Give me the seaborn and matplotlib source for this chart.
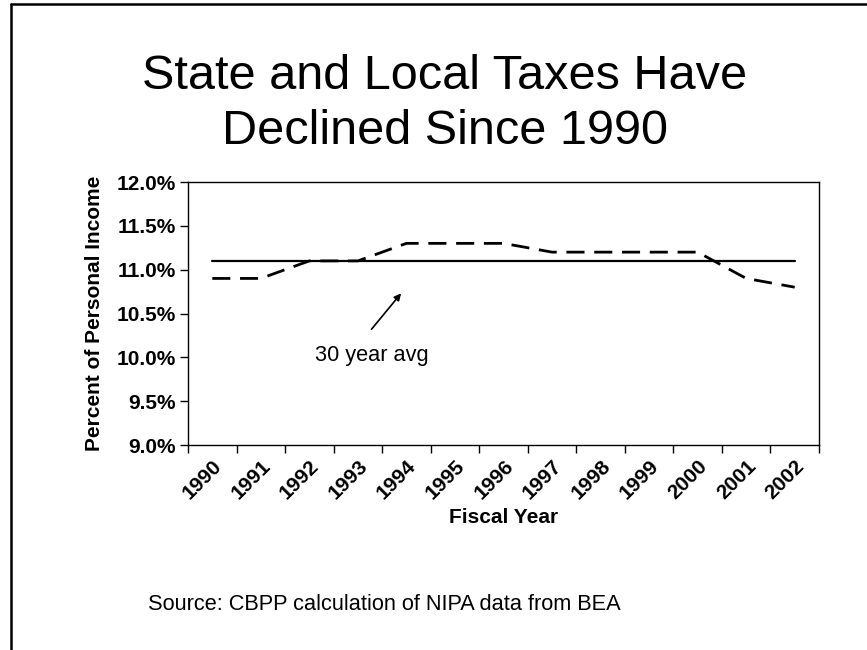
import matplotlib
matplotlib.use("Agg")
import matplotlib.pyplot as plt
import matplotlib.transforms as mtransforms
import seaborn as sns
import pandas as pd
import numpy as np
from matplotlib.lines import Line2D
from matplotlib.ticker import FixedLocator, FuncFormatter

years = ["1990", "1991", "1992", "1993", "1994", "1995", "1996",
         "1997", "1998", "1999", "2000", "2001", "2002"]
tax_share = [10.9, 10.9, 11.1, 11.1, 11.3, 11.3, 11.3,
             11.2, 11.2, 11.2, 11.2, 10.9, 10.8]
avg_30yr = [11.1] * len(years)
y_ticks = [9.0, 9.5, 10.0, 10.5, 11.0, 11.5, 12.0]

sns.set_style("white")
plt.rcParams['font.family'] = ['Liberation Sans', 'DejaVu Sans']
for k in ["text.color", "axes.labelcolor", "xtick.color", "ytick.color"]:
    plt.rcParams[k] = "black"

df = pd.DataFrame({"idx": np.arange(len(years)), "year": years,
                   "share": tax_share, "avg": avg_30yr})

fig = plt.figure(figsize=(8.67, 6.5), dpi=100)
ax = fig.add_axes([188/867, 1 - 445/650, (819-188)/867, (445-182)/650])

sns.lineplot(data=df, x="idx", y="avg", ax=ax, color="black", linewidth=1.6)
sns.lineplot(data=df, x="idx", y="share", ax=ax, color="black", linewidth=2.0)
ax.lines[1].set_dashes((6.5, 3.5))

ax.set_xlim(-0.5, len(years) - 0.5)
ax.set_ylim(9.0, 12.0)
ax.set_yticks(y_ticks)
ax.yaxis.set_major_formatter(FuncFormatter(lambda v, p: f"{v:.1f}%"))
ax.set_xticks(df["idx"])
ax.set_xticklabels(years, rotation=45, ha="right", va="top", rotation_mode="anchor",
                   fontweight="bold", fontsize=15)
offset = mtransforms.ScaledTranslation(10/100, 0, fig.dpi_scale_trans)
for lab in ax.get_xticklabels():
    lab.set_transform(lab.get_transform() + offset)
ax.xaxis.set_minor_locator(FixedLocator(np.arange(-0.5, len(years), 1.0)))
ax.tick_params(axis="x", which="major", length=0, pad=8)
ax.tick_params(axis="x", which="minor", length=6, width=1, direction="out", bottom=True)
ax.tick_params(axis="y", length=6, width=1, direction="out", left=True, labelsize=15, pad=3)
for lab in ax.get_yticklabels():
    lab.set_fontweight("bold")

for sp in ax.spines.values():
    sp.set_visible(True)
    sp.set_color("black")
    sp.set_linewidth(1.0)

ax.set_xlabel("Fiscal Year", fontsize=15, fontweight="bold", labelpad=4)
ax.set_ylabel("Percent of Personal Income", fontsize=15, fontweight="bold", labelpad=9)

ax.annotate("", xy=(3.89, 10.73), xytext=(3.28, 10.32),
            arrowprops=dict(arrowstyle="-|>", color="black", lw=1.2,
                            mutation_scale=10, shrinkA=0, shrinkB=0))
ax.text(2.12, 10.02, "30 year avg", fontsize=15.7, ha="left", va="center")

fig.text(445/867, 1 - 104/650, "State and Local Taxes Have\nDeclined Since 1990",
         ha="center", va="center", fontsize=35, linespacing=1.3)
fig.text(148/867, 1 - 604/650, "Source: CBPP calculation of NIPA data from BEA",
         ha="left", va="center", fontsize=15.7)

fig.add_artist(Line2D([10.5/867, 1.0], [1 - 3.5/650, 1 - 3.5/650],
                      transform=fig.transFigure, color="black", linewidth=1.8))
fig.add_artist(Line2D([10.5/867, 10.5/867], [0.0, 1 - 3.5/650],
                      transform=fig.transFigure, color="black", linewidth=1.8))

fig.savefig("out.png", dpi=100)
